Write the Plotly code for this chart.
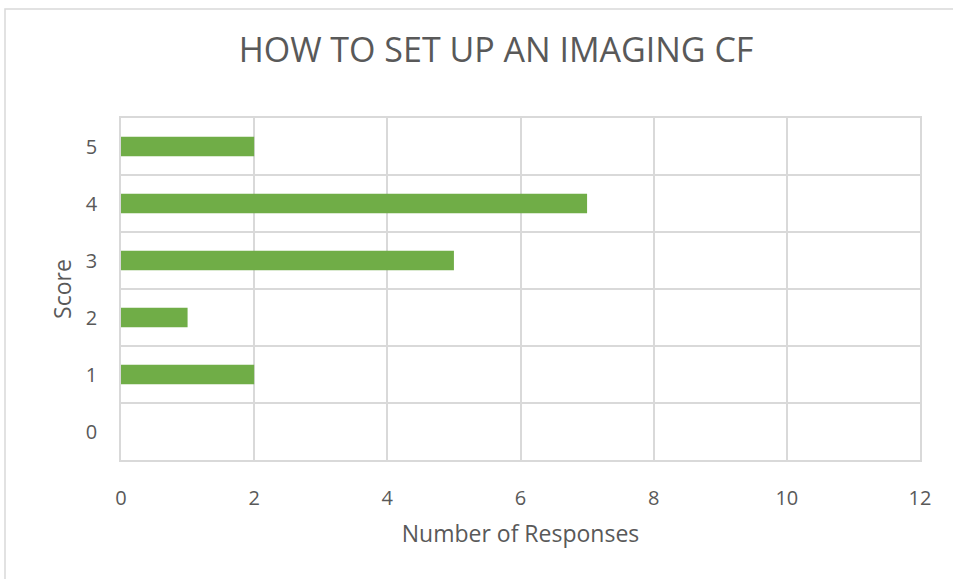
import plotly.graph_objects as go

scores = [0, 1, 2, 3, 4, 5]
responses = [0, 2, 1, 5, 7, 2]
x_ticks = [0, 2, 4, 6, 8, 10, 12]

text_color = "#595959"
grid_color = "#D9D9D9"
font_family = "Open Sans, sans-serif"

fig = go.Figure()
fig.add_trace(go.Bar(
    x=responses, y=scores, orientation="h",
    marker=dict(color="#70AD47", line=dict(width=0)),
    width=0.34,
))

fig.update_layout(
    width=953, height=579,
    margin=dict(l=121, r=33, t=118, b=119),
    paper_bgcolor="white", plot_bgcolor="white",
    font=dict(family=font_family, color=text_color, size=20),
    showlegend=False,
    title=dict(text="HOW TO SET UP AN IMAGING CF", x=496 / 953, xanchor="center",
               y=1 - 50 / 579, yanchor="middle",
               font=dict(size=34, color=text_color, family=font_family)),
)

fig.update_xaxes(
    range=[0, 12], tickvals=x_ticks, showgrid=True, gridcolor=grid_color, gridwidth=1.5,
    zeroline=False, showline=True, mirror=True, linecolor=grid_color, linewidth=1.5,
    ticks="", ticklabelstandoff=19,
    title=dict(text="Number of Responses", standoff=16, font=dict(size=23)),
)

fig.update_yaxes(
    range=[-0.5, 5.5], tickvals=scores, showgrid=False, zeroline=False,
    showline=True, mirror=True, linecolor=grid_color, linewidth=1.5,
    ticks="", ticklabelstandoff=18,
    minor=dict(tickvals=[s - 0.5 for s in scores] + [5.5], showgrid=True,
               gridcolor=grid_color, gridwidth=1.5, ticks=""),
    title=dict(text="Score", standoff=8, font=dict(size=23)),
)

# chart-area border
fig.add_shape(type="rect", xref="paper", yref="paper",
              x0=(5 - 121) / 799, x1=1.2, y0=-0.5, y1=(460 - 9) / 342,
              line=dict(color=grid_color, width=1.5), layer="below")

fig.write_html("out.html", config={"displayModeBar": False},
               post_script="document.body.style.margin='0';")
